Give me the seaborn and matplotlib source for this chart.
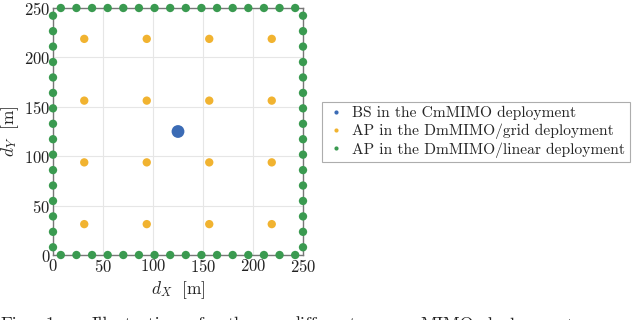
import matplotlib
matplotlib.use("Agg")
import matplotlib.pyplot as plt
import seaborn as sns
import pandas as pd

# BS of the co-located deployment
bs_x = [125.0]
bs_y = [125.0]

# APs on the regular grid
grid_coords = [31.25, 93.75, 156.25, 218.75]

# APs along the perimeter (16 per side)
side_pos = [7.81, 23.44, 39.06, 54.69, 70.31, 85.94, 101.56, 117.19,
            132.81, 148.44, 164.06, 179.69, 195.31, 210.94, 226.56, 242.19]
edge_lo = 0.0
edge_hi = 250.0

labels = ["BS in the CmMIMO deployment",
          "AP in the DmMIMO/grid deployment",
          "AP in the DmMIMO/linear deployment"]
colors = ["#3b6bb5", "#f1b330", "#3a9a50"]

caption_words = ["Fig.", "1:", "Illustration", "of", "the", "different", "MIMO", "deployments"]
caption_px = [0, 45, 92, 190, 228, 290, 420, 482]

rows = []
rows += [(x, y, labels[0]) for x, y in zip(bs_x, bs_y)]
rows += [(x, y, labels[1]) for x in grid_coords for y in grid_coords]
rows += [(p, edge_lo, labels[2]) for p in side_pos]
rows += [(p, edge_hi, labels[2]) for p in side_pos]
rows += [(edge_lo, p, labels[2]) for p in side_pos]
rows += [(edge_hi, p, labels[2]) for p in side_pos]
df = pd.DataFrame(rows, columns=["x", "y", "deployment"])

sns.set_theme(style="whitegrid")
plt.rcParams["font.family"] = ["cmr10", "DejaVu Serif"]
plt.rcParams["mathtext.fontset"] = "cm"
plt.rcParams["axes.formatter.use_mathtext"] = True

fig = plt.figure(figsize=(6.4, 3.2), dpi=100)
ax = fig.add_axes([53 / 640, 1 - 255 / 320, 250 / 640, 247 / 320])

sizes = {labels[0]: 85, labels[1]: 36, labels[2]: 36}
sns.scatterplot(data=df, x="x", y="y", hue="deployment", size="deployment",
                sizes=sizes, palette=dict(zip(labels, colors)),
                hue_order=labels, linewidth=0, ax=ax, clip_on=False, zorder=3)

ax.set_xlim(0, 250)
ax.set_ylim(0, 250)
ax.set_xticks([0, 50, 100, 150, 200, 250])
ax.set_yticks([0, 50, 100, 150, 200, 250])
ax.tick_params(labelsize=12, pad=2, length=0, colors="#222222")
ax.grid(color="#e6e6e6", linewidth=0.8)
for s in ax.spines.values():
    s.set_color("#777777")
    s.set_linewidth(1.0)
    s.set_zorder(2)
ax.set_xlabel(r"$d_X\ \ [\mathrm{m}]$", fontsize=12.5, labelpad=3)
ax.set_ylabel(r"$d_Y\ \ [\mathrm{m}]$", fontsize=12.5, labelpad=2)

handles, lbls = ax.get_legend_handles_labels()
leg = ax.legend(handles, lbls, loc="center left", bbox_to_anchor=(322 / 640, 1 - 132 / 320),
                bbox_transform=fig.transFigure, borderaxespad=0, fontsize=11.2,
                frameon=True, fancybox=False, edgecolor="#999999",
                handletextpad=0.45, borderpad=0.3, labelspacing=0.2, handlelength=1.2)
leg.get_frame().set_linewidth(0.8)
for h in leg.legend_handles:
    if hasattr(h, "set_sizes"):
        h.set_sizes([9])
    elif hasattr(h, "set_markersize"):
        h.set_markersize(3)

for word, px in zip(caption_words, caption_px):
    fig.text(px / 640, 1 - 317 / 320, word, fontsize=13, va="top", ha="left", color="#222222")

fig.savefig("out.png", dpi=100)
